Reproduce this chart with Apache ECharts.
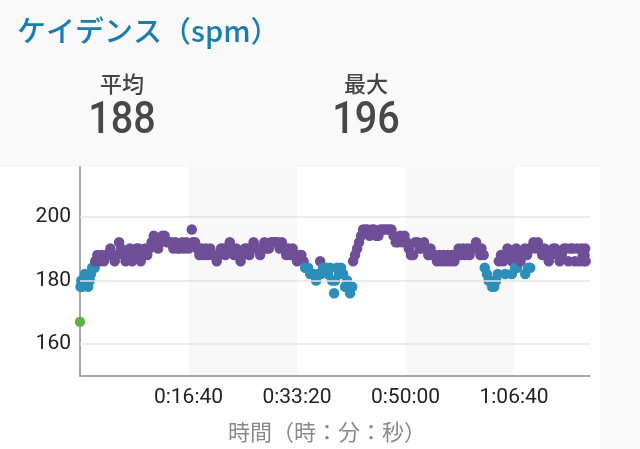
<!DOCTYPE html>
<html><head><meta charset="utf-8">
<script src="https://cdn.jsdelivr.net/npm/echarts@6/dist/echarts.min.js"></script>
<style>
html,body{margin:0;padding:0;background:#f9f9f9;width:640px;height:449px;overflow:hidden;}
#panel{position:absolute;left:0;top:167px;width:600px;height:282px;background:#ffffff;}
#chart{position:absolute;left:0;top:0;width:640px;height:449px;}
</style></head><body>
<div id="panel"></div><div id="chart"></div>
<script>
// elapsed time (seconds) of each cadence sample
const seconds = [
  0,5,12,20,30,45,60,75,90,100,112,125,135,
  140,160,180,200,220,240,260,280,300,320,340,360,380,400,420,440,460,480,500,520,540,560,580,600,
  620,640,660,680,700,720,740,760,780,800,820,840,860,880,900,920,940,960,980,1000,1030,1040,1060,1080,
  1100,1120,1140,1160,1180,1200,1220,1240,1260,1280,1300,1320,1340,1360,1380,1400,1420,1440,1460,1480,
  1500,1520,1540,1560,1580,1600,1620,1640,1660,1680,1700,1720,1740,1760,1780,1800,1820,1840,1860,1880,
  1900,1920,1940,1960,1980,2000,2020,2040,2060,
  2075,2102,2121,2148,2176,2194,2213,2222,2240,2268,2286,2305,2323,2342,2351,2369,2388,2406,2425,2443,2462,2480,2489,2508,
  2517,2535,2554,2572,2591,2609,2630,2650,2670,2690,2710,2730,2750,2770,2790,2810,2830,2850,2870,2890,
  2910,2930,2950,2970,2990,3010,3030,3050,3070,3090,3110,3130,3150,3170,3190,3210,3230,3250,3270,3290,
  3310,3330,3350,3370,3390,3410,3430,3450,3470,3490,3510,3530,3550,3570,3590,3610,3630,3650,3670,3690,3700,3720,
  3730,3750,3765,3780,3798,3817,3835,3850,
  3860,3880,3900,3918,3920,3940,3960,3980,3980,4000,4010,4020,4029,4040,4060,4080,4100,4103,4120,4130,4140,4149,
  4160,4180,4200,4220,4240,4260,4280,4300,4320,4340,4360,4380,4400,4420,4440,4460,4480,4500,4520,4540,
  4560,4580,4600,4620,4635,4645,4650,4655,4660
];
// cadence (steps per minute) at each sample
const spm = [
  167,178,180,178,180,182,180,178,180,182,184,184,184,
  186,188,186,188,186,188,188,190,188,186,188,192,190,188,186,188,190,186,188,190,190,186,188,190,
  188,190,192,194,192,190,192,194,194,192,192,192,190,192,190,190,192,190,192,190,196,192,192,190,
  188,190,188,190,188,190,188,188,186,188,190,190,188,190,192,190,188,190,188,186,
  188,190,190,188,190,192,190,190,188,190,192,190,190,192,192,192,192,190,192,190,
  188,190,188,190,188,186,188,188,186,
  184,184,182,182,180,182,186,182,184,184,182,184,180,176,180,184,182,184,182,178,180,178,176,178,
  186,188,190,192,194,196,196,196,194,196,196,194,194,196,196,196,196,196,196,194,
  192,192,194,192,194,192,190,188,188,192,192,190,190,192,190,188,190,188,188,186,
  188,186,188,186,188,186,188,186,188,190,188,190,188,190,188,190,190,192,190,188,190,188,
  184,182,180,180,178,178,180,182,
  186,188,186,182,188,190,188,182,186,188,184,190,184,188,186,188,190,182,188,184,190,184,
  190,192,190,192,190,188,190,188,186,188,190,190,188,186,188,190,190,186,190,190,
  186,190,186,190,188,186,188,190,186
];
const yLabelValues = [160, 180, 200];
const xLabelSeconds = [1000, 2000, 3000, 4000];
const avgCadence = 188;
const maxCadence = 196;

const chart = echarts.init(document.getElementById('chart'), null, {renderer: 'canvas'});
const latin = "Roboto, 'Noto Sans CJK JP', sans-serif";
const cjk = "'Noto Sans CJK JP', Roboto, sans-serif";

function hms(v) {
  const h = Math.floor(v / 3600), m = Math.floor((v % 3600) / 60), s = Math.round(v % 60);
  return h + ':' + String(m).padStart(2, '0') + ':' + String(s).padStart(2, '0');
}

const points = seconds.map((t, i) => [t, spm[i]]);

chart.setOption({
  animation: false,
  backgroundColor: 'transparent',
  grid: {left: 80, right: 50, top: 167, bottom: 73, containLabel: false},
  graphic: [
    {type: 'text', x: 17, y: 31, style: {text: 'ケイデンス（spm）', font: "500 29px " + cjk, fill: '#1a7db0', textAlign: 'left', textVerticalAlign: 'middle'}},
    {type: 'text', x: 122, y: 84, style: {text: '平均', font: "500 22px " + cjk, fill: '#444444', textAlign: 'center', textVerticalAlign: 'middle'}},
    {type: 'text', x: 122, y: 122, scaleX: 0.88, style: {text: String(avgCadence), font: "500 45px " + latin, fill: '#484848', textAlign: 'center', textVerticalAlign: 'middle'}},
    {type: 'text', x: 366, y: 84, style: {text: '最大', font: "500 22px " + cjk, fill: '#444444', textAlign: 'center', textVerticalAlign: 'middle'}},
    {type: 'text', x: 366, y: 122, scaleX: 0.88, style: {text: String(maxCadence), font: "500 45px " + latin, fill: '#484848', textAlign: 'center', textVerticalAlign: 'middle'}}
  ],
  xAxis: {
    type: 'value', min: 0, max: 4700, interval: 1000,
    name: '時間（時：分：秒）', nameLocation: 'middle', nameGap: 45,
    nameTextStyle: {color: '#8a8a8a', fontSize: 22, fontFamily: cjk, padding: [0, 16, 0, 0]},
    axisLine: {show: true, lineStyle: {color: '#8a8a8a', width: 1.5}},
    axisTick: {show: false},
    axisLabel: {color: '#222222', fontSize: 21, fontFamily: latin, margin: 11,
      formatter: v => xLabelSeconds.includes(v) ? hms(v) : ''},
    splitLine: {show: false},
    splitArea: {show: true, areaStyle: {color: ['rgba(255,255,255,0)', '#f8f8f8']}}
  },
  yAxis: {
    type: 'value', min: 150, max: 215.6, interval: 10,
    axisLine: {show: true, lineStyle: {color: '#8a8a8a', width: 1.5}},
    axisTick: {show: false},
    axisLabel: {color: '#222222', fontSize: 21, fontFamily: latin, margin: 9,
      formatter: v => yLabelValues.includes(v) ? String(v) : ''},
    splitLine: {show: false}
  },
  visualMap: {
    show: false, type: 'piecewise', dimension: 1, seriesIndex: 1,
    pieces: [
      {lt: 175, color: '#5cb447'},
      {gte: 175, lt: 185, color: '#2b8fba'},
      {gte: 185, color: '#6e4f97'}
    ]
  },
  series: [
    {
      type: 'line', data: [], z: 1, silent: true,
      markLine: {silent: true, symbol: 'none', label: {show: false},
        lineStyle: {color: '#e4e4e4', width: 1.5, type: 'solid'},
        data: yLabelValues.map(v => ({yAxis: v}))}
    },
    {
      type: 'scatter', data: points, symbol: 'circle', symbolSize: 10.5, z: 3,
      itemStyle: {opacity: 1}
    }
  ]
});
</script>
</body></html>
